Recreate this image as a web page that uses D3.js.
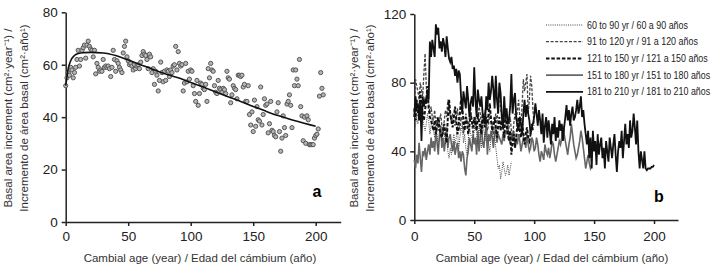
<!DOCTYPE html>
<html>
<head>
<meta charset="utf-8">
<script src="https://cdn.jsdelivr.net/npm/d3@7"></script>
<style>
  body { margin: 0; background: #fff; }
  svg { font-family: "Liberation Sans", Arial, sans-serif; }
</style>
</head>
<body>
<svg id="chart" width="715" height="271"></svg>
<script>
// panel a: observed basal area increment by cambial age (index = age in years)
const scatterValues = [
  52, 55, 57, 56, 59, 58, 55, 57, 59, 62, 65.5, 59.5, 62, 65.5, 66.5, 67.5, 62.5, 67.5, 69, 67,
  66, 65.5, 63, 65.5, 56.5, 60.5, 59, 57.5, 58, 57.5, 62, 59, 59.5, 59, 59.5, 58.5, 55.5, 59, 65.5, 62,
  57.5, 61.5, 60.5, 59, 58, 57, 64.5, 67, 69, 63, 61.5, 60, 60.5, 59.5, 58, 60, 58.5, 59.5, 60, 58.5,
  61, 63.5, 65, 64, 63.5, 62, 58.5, 64, 63, 57, 58.5, 52.5, 57.5, 56, 50, 54, 61, 57, 53.5, 57.5,
  54, 58, 57.5, 55.5, 58, 57, 59.5, 60, 67, 58, 65, 60.5, 59.5, 60, 50, 53, 60.5, 53.5, 57.5, 54.5,
  58, 57.5, 52, 49, 46, 54, 44.5, 49, 53, 52.5, 51, 50.5, 52.5, 46, 58.5, 55, 60.5, 58, 57.5, 52,
  49.5, 49, 54, 51, 50.5, 49.5, 51, 50.5, 49, 57.5, 55, 54.5, 45.5, 48.5, 52, 51, 50.5, 47, 56, 56,
  55.5, 56, 51.5, 52.5, 46, 46, 52, 41, 37, 42, 34.5, 46.5, 36.5, 44, 39, 38.5, 51.5, 37, 41, 47,
  44.5, 45, 34, 37.5, 46, 35, 34.5, 33, 32.5, 42, 45.5, 34.5, 27, 32, 40.5, 36, 33, 45, 46, 48.5,
  44.5, 36, 58, 52, 58, 54.5, 52, 62, 44, 40.5, 31, 40, 30, 40.5, 39, 29.5, 29.5, 29.5, 29.5, 32,
  33, 33.5, 35.5, 48, 57, 51, 48.5
];
// panel a: fitted trend
const fitAges = [0, 1, 2, 4, 7, 10, 15, 20, 30, 40, 50, 60, 70, 80, 90, 100, 110, 120, 130, 140, 150, 160, 170, 180, 190, 200];
const fitValues = [52, 55.5, 58.5, 61.5, 63.5, 64.3, 64.6, 64.7, 64.5, 63.5, 61.8, 60, 58.2, 56.5, 55, 53.2, 51.5, 49.6, 47.8, 46, 44.1, 42.3, 40.6, 39.1, 37.8, 36.5];

// panel b: mean series by age class (index = cambial age)
const series60to90 = [
  52, 55, 60, 56, 62, 58, 65, 60, 55, 52, 56, 62, 58, 50, 55, 60, 52, 48, 55, 50,
  42, 48, 52, 46, 55, 50, 44, 48, 40, 36, 42, 38, 45, 50, 44, 48, 55, 40, 48, 52,
  56, 45, 50, 42, 38, 46, 55, 50, 48, 45, 52, 58, 50, 44, 56, 48, 42, 60, 52, 46,
  55, 50, 44, 40, 48, 52, 46, 50, 42, 36, 30, 32, 24, 28, 34, 30, 26, 28, 32, 26,
  30, 34
];
const series91to120 = [
  60, 82, 78, 75, 70, 80, 76, 72, 85, 97, 78, 70, 68, 62, 66, 60, 58, 64, 56, 60,
  52, 58, 62, 55, 50, 58, 64, 60, 70, 65, 60, 56, 62, 58, 55, 60, 65, 56, 52, 60,
  58, 50, 55, 62, 58, 54, 60, 66, 56, 50, 55, 60, 52, 58, 66, 62, 56, 54, 60, 64,
  58, 52, 56, 62, 60, 54, 50, 58, 62, 56, 70, 78, 65, 60, 55, 58, 62, 56, 50, 54,
  60, 52, 48, 56, 62, 58, 64, 70, 60, 55, 68, 82, 75, 80, 85, 62, 70, 84, 78, 64,
  55
];
const series121to150 = [
  65, 58, 70, 62, 60, 75, 68, 62, 58, 64, 70, 78, 65, 60, 58, 55, 52, 58, 50, 55,
  60, 54, 50, 48, 52, 56, 50, 45, 60, 70, 62, 58, 54, 60, 66, 58, 50, 55, 62, 70,
  65, 58, 52, 60, 56, 50, 55, 62, 58, 54, 60, 56, 52, 62, 58, 55, 50, 62, 58, 54,
  60, 56, 62, 68, 58, 52, 56, 60, 54, 48, 55, 60, 52, 58, 54, 48, 62, 56, 50, 46,
  52, 38, 45, 50, 42, 48, 55, 60, 52, 48, 56, 50, 44, 50, 54, 48, 46, 50, 56, 52
];
const series151to180 = [
  35, 30, 38, 33, 45, 36, 28, 40, 38, 42, 35, 40, 44, 38, 48, 42, 46, 40, 52, 45,
  38, 50, 55, 42, 48, 40, 46, 54, 42, 48, 50, 44, 40, 46, 38, 42, 45, 36, 40, 34,
  40, 38, 30, 26, 36, 40, 48, 44, 40, 50, 44, 48, 38, 52, 40, 48, 56, 45, 42, 50,
  55, 38, 50, 46, 52, 48, 42, 50, 55, 45, 50, 48, 46, 44, 50, 46, 52, 50, 56, 48,
  44, 50, 46, 52, 42, 48, 44, 50, 46, 40, 44, 48, 46, 42, 50, 44, 40, 42, 48, 46,
  40, 42, 48, 44, 38, 34, 40, 38, 35, 44, 40, 38, 42, 36, 40, 46, 44, 38, 34, 38,
  42, 46, 44, 48, 55, 50, 46, 42, 38, 44, 48, 56, 50, 44, 40, 36, 38, 42, 46, 52,
  48, 42, 36, 30, 34, 38, 33, 30, 32
];
const series181to210 = [
  60, 72, 65, 68, 58, 70, 46, 72, 66, 70, 68, 75, 70, 104, 95, 105, 100, 95, 114, 108,
  112, 100, 104, 98, 106, 102, 95, 107, 100, 94, 92, 95, 88, 90, 84, 88, 80, 87, 85, 72,
  62, 75, 70, 65, 78, 70, 60, 68, 72, 66, 89, 70, 60, 76, 70, 66, 72, 62, 60, 56,
  72, 64, 80, 70, 75, 84, 76, 65, 84, 70, 62, 80, 74, 60, 54, 72, 60, 65, 56, 58,
  66, 85, 62, 70, 74, 60, 55, 52, 60, 56, 50, 62, 70, 60, 67, 62, 58, 50, 54, 56,
  60, 68, 62, 55, 64, 58, 50, 62, 45, 55, 60, 48, 58, 52, 44, 56, 50, 60, 46, 54,
  48, 58, 52, 56, 46, 54, 60, 67, 58, 64, 55, 62, 66, 58, 60, 64, 70, 62, 66, 72,
  60, 64, 56, 50, 44, 52, 36, 48, 30, 52, 40, 46, 32, 50, 38, 44, 48, 36, 42, 30,
  46, 40, 34, 48, 42, 36, 44, 50, 38, 28, 40, 46, 42, 52, 36, 46, 56, 44, 50, 42,
  58, 48, 52, 62, 54, 44, 58, 40, 30, 40, 35, 30, 40, 30, 29, 30, 30, 30, 31, 31,
  32
];
const legendLabels = [
  "60 to 90 yr / 60 a 90 años",
  "91 to 120 yr / 91 a 120 años",
  "121 to 150 yr / 121 a 150 años",
  "151 to 180 yr / 151 to 180 años",
  "181 to 210 yr / 181 to 210 años"
];
const xTicks = [0, 50, 100, 150, 200];
const yTicksA = [0, 20, 40, 60, 80];
const yTicksB = [0, 40, 80, 120];

const svg = d3.select("#chart");
const axisColor = "#222";

function styleAxis(g) {
  g.select(".domain").attr("stroke", axisColor).attr("stroke-width", 1.5);
  g.selectAll(".tick line").attr("stroke", axisColor).attr("stroke-width", 1.5);
  g.selectAll(".tick text").attr("fill", "#222").style("font-size", "13.5px")
    .style("font-family", "'Liberation Sans', Arial, sans-serif");
}

function yTitle(x, cy) {
  const t = svg.append("text")
    .attr("transform", `translate(${x},${cy}) rotate(-90)`)
    .attr("text-anchor", "middle")
    .style("font-size", "11.5px")
    .attr("fill", "#333");
  t.append("tspan").attr("x", 0).attr("dy", 0)
    .text("Basal area increment (cm²·year⁻¹) /");
  t.append("tspan").attr("x", 0).attr("dy", 16)
    .text("Incremento de área basal  (cm²·año¹)");
}

function xTitle(cx) {
  svg.append("text")
    .attr("x", cx).attr("y", 262)
    .attr("text-anchor", "middle")
    .style("font-size", "11.5px")
    .attr("fill", "#333")
    .text("Cambial age (year) / Edad del cámbium (año)");
}

// ---------- panel a ----------
const xA = d3.scaleLinear().domain([0, 220]).range([65.7, 340.7]);
const yA = d3.scaleLinear().domain([0, 80]).range([222, 12.3]);

svg.append("g").attr("transform", "translate(0,222)")
  .call(d3.axisBottom(xA).tickValues(xTicks).tickSize(4).tickSizeOuter(0).tickPadding(5))
  .call(styleAxis);
svg.append("g").attr("transform", "translate(65.7,0)")
  .call(d3.axisLeft(yA).tickValues(yTicksA).tickSize(4).tickSizeOuter(0).tickPadding(4))
  .call(styleAxis);

svg.append("g").selectAll("circle")
  .data(scatterValues)
  .enter()
  .append("circle")
  .attr("cx", (d, i) => xA(i))
  .attr("cy", d => yA(d))
  .attr("r", 2.1)
  .attr("fill", "#b5b5b5")
  .attr("stroke", "#555")
  .attr("stroke-width", 1);

const fitLine = d3.line()
  .x((d, i) => xA(fitAges[i]))
  .y(d => yA(d))
  .curve(d3.curveMonotoneX);
svg.append("path")
  .attr("d", fitLine(fitValues))
  .attr("fill", "none")
  .attr("stroke", "#111")
  .attr("stroke-width", 1.6);

svg.append("text").attr("x", 317).attr("y", 197)
  .attr("text-anchor", "middle")
  .style("font-size", "16px").style("font-weight", "bold")
  .text("a");

yTitle(12, 118);
xTitle(200);

// ---------- panel b ----------
const xB = d3.scaleLinear().domain([0, 220]).range([414.3, 678]);
const yB = d3.scaleLinear().domain([0, 120]).range([220, 14]);

svg.append("g").attr("transform", "translate(0,220)")
  .call(d3.axisBottom(xB).tickValues(xTicks).tickSize(4).tickSizeOuter(0).tickPadding(7))
  .call(styleAxis);
svg.append("g").attr("transform", "translate(414.3,0)")
  .call(d3.axisLeft(yB).tickValues(yTicksB).tickSize(4).tickSizeOuter(0).tickPadding(4))
  .call(styleAxis);

const styles = [
  { data: series60to90, color: "#444", width: 1, dash: "1,1.2" },
  { data: series91to120, color: "#444", width: 1.3, dash: "3,1.6" },
  { data: series121to150, color: "#111", width: 2, dash: "3.5,1.8" },
  { data: series151to180, color: "#666", width: 1.6, dash: null },
  { data: series181to210, color: "#111", width: 1.8, dash: null }
];

const lineB = d3.line()
  .x((d, i) => xB(i))
  .y(d => yB(d));

// draw the older classes underneath so the black series sits on top
[3, 0, 1, 2, 4].forEach(k => {
  const s = styles[k];
  svg.append("path")
    .attr("d", lineB(s.data))
    .attr("fill", "none")
    .attr("stroke", s.color)
    .attr("stroke-width", s.width)
    .attr("stroke-dasharray", s.dash);
});

// legend (text squeezed to mimic the narrow face of the original)
const legend = svg.append("g");
legendLabels.forEach((lbl, i) => {
  const y = 25 + i * 16.7;
  const s = styles[i];
  legend.append("line")
    .attr("x1", 546).attr("x2", 583)
    .attr("y1", y).attr("y2", y)
    .attr("stroke", s.color)
    .attr("stroke-width", s.width)
    .attr("stroke-dasharray", s.dash);
  const t = legend.append("text")
    .attr("x", 587).attr("y", y + 3.5)
    .style("font-size", "10px")
    .attr("fill", "#222")
    .text(lbl);
  const w = t.node().getComputedTextLength();
  t.attr("textLength", w * 0.89).attr("lengthAdjust", "spacingAndGlyphs");
});

svg.append("text").attr("x", 659).attr("y", 202)
  .attr("text-anchor", "middle")
  .style("font-size", "16px").style("font-weight", "bold")
  .text("b");

yTitle(358, 118);
xTitle(552);
</script>
</body>
</html>
